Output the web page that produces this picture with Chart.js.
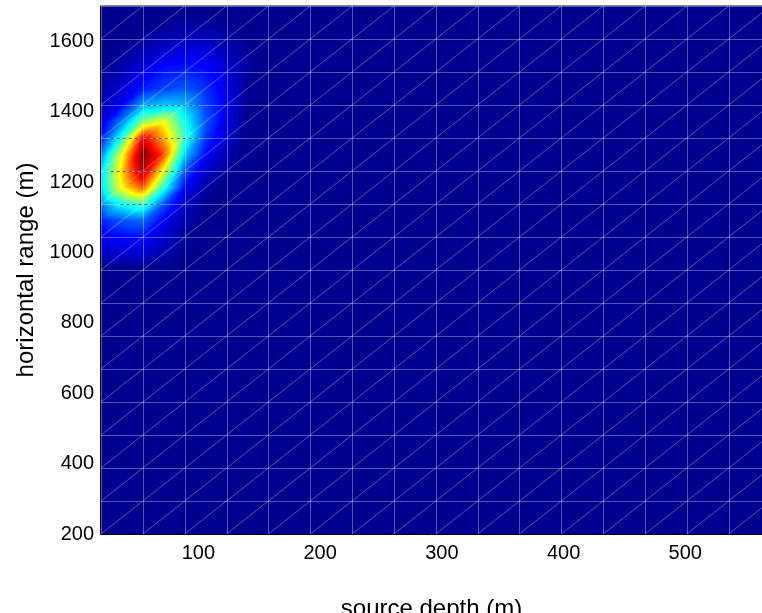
<!DOCTYPE html>
<html lang="en">
<head>
    <meta charset="UTF-8">
    <title>Source depth / horizontal range</title>
    <style>
        html, body { margin: 0; padding: 0; background: #fff; overflow: hidden; }
        #wrap { width: 762px; height: 613px; overflow: hidden; }
    </style>
</head>
<body>
<div id="wrap"><canvas id="surf" width="762" height="630"></canvas></div>

<script src="https://cdn.jsdelivr.net/npm/chart.js"></script>
<script>
    // Axis ticks
    const depthTicks = [100, 200, 300, 400, 500];
    const rangeTicks = [200, 400, 600, 800, 1000, 1200, 1400, 1600];

    // Mesh nodes (edges drawn over the surface)
    const meshDepth = [20, 54.375, 88.75, 123.125, 157.5, 191.875, 226.25, 260.625, 295,
                       329.375, 363.75, 398.125, 432.5, 466.875, 501.25, 535.625, 570];
    const meshRange = [200, 293.75, 387.5, 481.25, 575, 668.75, 762.5, 856.25, 950,
                       1043.75, 1137.5, 1231.25, 1325, 1418.75, 1512.5, 1606.25, 1700];

    // Normalised ambiguity level on the fine grid around the peak (0 everywhere else)
    const levelDepth = [20, 37.1875, 54.375, 71.5625, 88.75, 105.9375, 123.125, 140.3125, 157.5];
    const levelRange = [1700, 1653.125, 1606.25, 1559.375, 1512.5, 1465.625, 1418.75, 1371.875,
                        1325, 1278.125, 1231.25, 1184.375, 1137.5, 1090.625, 1043.75, 996.875, 950];
    const levels = [
        [0.00, 0.00, 0.00, 0.00, 0.00, 0.00, 0.00, 0.00, 0],
        [0.00, 0.00, 0.00, 0.01, 0.02, 0.02, 0.01, 0.00, 0],
        [0.00, 0.00, 0.02, 0.04, 0.05, 0.05, 0.03, 0.01, 0],
        [0.00, 0.02, 0.05, 0.08, 0.10, 0.09, 0.05, 0.02, 0],
        [0.01, 0.04, 0.10, 0.14, 0.15, 0.13, 0.08, 0.02, 0],
        [0.03, 0.07, 0.14, 0.18, 0.20, 0.16, 0.09, 0.01, 0],
        [0.04, 0.11, 0.28, 0.31, 0.30, 0.18, 0.10, 0.01, 0],
        [0.08, 0.24, 0.50, 0.60, 0.38, 0.20, 0.09, 0.01, 0],
        [0.14, 0.40, 0.88, 0.70, 0.42, 0.17, 0.07, 0.00, 0],
        [0.24, 0.60, 1.00, 0.80, 0.32, 0.12, 0.04, 0.00, 0],
        [0.32, 0.66, 0.95, 0.60, 0.20, 0.07, 0.02, 0.00, 0],
        [0.33, 0.62, 0.78, 0.40, 0.12, 0.03, 0.00, 0.00, 0],
        [0.24, 0.38, 0.44, 0.20, 0.06, 0.01, 0.00, 0.00, 0],
        [0.15, 0.20, 0.22, 0.11, 0.04, 0.00, 0.00, 0.00, 0],
        [0.10, 0.12, 0.13, 0.07, 0.02, 0.00, 0.00, 0.00, 0],
        [0.06, 0.07, 0.07, 0.04, 0.01, 0.00, 0.00, 0.00, 0],
        [0.00, 0.00, 0.00, 0.00, 0.00, 0.00, 0.00, 0.00, 0]
    ];

    // dark dashed seams along mesh rows across the peak: range, depth from, depth to
    const seamRange = [1418.75, 1325, 1231.25, 1137.5];
    const seamFrom = [58, 28, 28, 36];
    const seamTo = [102, 102, 89, 69];

    // 64-entry jet colormap
    function jet(m) {
        const n = Math.ceil(m / 4);
        const u = [];
        for (let i = 1; i <= n; i++) u.push(i / n);
        for (let i = 0; i < n - 1; i++) u.push(1);
        for (let i = n; i >= 1; i--) u.push(i / n);
        const off = Math.ceil(n / 2) - (m % 4 === 1 ? 1 : 0);
        const map = Array.from({length: m}, () => [0, 0, 0]);
        u.forEach((val, i) => {
            const g = off + i + 1, r = g + n, b = g - n;
            if (r >= 1 && r <= m) map[r - 1][0] = val;
            if (g >= 1 && g <= m) map[g - 1][1] = val;
            if (b >= 1 && b <= m) map[b - 1][2] = val;
        });
        return map.map(c => c.map(v => Math.round(v * 255)));
    }
    const cmap = jet(64);

    function findCell(arr, v) {
        // arr may be ascending or descending
        for (let i = 0; i < arr.length - 1; i++) {
            const a = arr[i], b = arr[i + 1];
            if ((v >= Math.min(a, b)) && (v <= Math.max(a, b))) return i;
        }
        return -1;
    }

    // linear interpolation on triangles split bottom-left -> top-right
    function levelAt(d, r) {
        const i = findCell(levelDepth, d);
        const j = findCell(levelRange, r);
        if (i < 0 || j < 0) return 0;
        // j is the upper row (larger range), j+1 the lower
        const d0 = levelDepth[i], d1 = levelDepth[i + 1];
        const rLo = levelRange[j + 1], rHi = levelRange[j];
        const fx = (d - d0) / (d1 - d0);
        const fy = (r - rLo) / (rHi - rLo);
        const v00 = levels[j + 1][i], v10 = levels[j + 1][i + 1];
        const v01 = levels[j][i], v11 = levels[j][i + 1];
        if (fy <= fx) return v00 + fx * (v10 - v00) + fy * (v11 - v10);
        return v00 + fy * (v01 - v00) + fx * (v11 - v01);
    }

    const surfacePlugin = {
        id: 'surface',
        beforeDatasetsDraw(chart) {
            const {ctx, chartArea: a, scales: {x, y}} = chart;
            const left = Math.round(a.left), top = Math.round(a.top);
            const w = Math.round(a.right) - left, h = Math.round(a.bottom) - top;
            const img = ctx.createImageData(w, h);
            for (let py = 0; py < h; py++) {
                const r = y.getValueForPixel(top + py + 0.5);
                for (let px = 0; px < w; px++) {
                    const d = x.getValueForPixel(left + px + 0.5);
                    const v = levelAt(d, r);
                    const c = cmap[Math.max(0, Math.min(63, Math.floor(v * 64)))];
                    const k = (py * w + px) * 4;
                    img.data[k] = c[0]; img.data[k + 1] = c[1]; img.data[k + 2] = c[2]; img.data[k + 3] = 255;
                }
            }
            ctx.putImageData(img, left, top);

            ctx.save();
            ctx.beginPath();
            ctx.rect(a.left, a.top, a.right - a.left, a.bottom - a.top);
            ctx.clip();

            // faceted mesh edges
            ctx.strokeStyle = 'rgba(255,255,255,0.33)';
            ctx.lineWidth = 1;
            ctx.beginPath();
            meshDepth.forEach(v => {
                const px = Math.round(x.getPixelForValue(v)) + 0.5;
                ctx.moveTo(px, a.top); ctx.lineTo(px, a.bottom);
            });
            meshRange.forEach(v => {
                const py = Math.round(y.getPixelForValue(v)) + 0.5;
                ctx.moveTo(a.left, py); ctx.lineTo(a.right, py);
            });
            for (let i = 0; i < meshDepth.length - 1; i++) {
                for (let j = 0; j < meshRange.length - 1; j++) {
                    ctx.moveTo(x.getPixelForValue(meshDepth[i]), y.getPixelForValue(meshRange[j]));
                    ctx.lineTo(x.getPixelForValue(meshDepth[i + 1]), y.getPixelForValue(meshRange[j + 1]));
                }
            }
            ctx.stroke();

            // seams
            ctx.strokeStyle = 'rgba(50,50,90,0.7)';
            ctx.setLineDash([3, 3]);
            ctx.beginPath();
            seamRange.forEach((r, i) => {
                const py = Math.round(y.getPixelForValue(r)) + 0.5;
                ctx.moveTo(x.getPixelForValue(seamFrom[i]), py);
                ctx.lineTo(x.getPixelForValue(seamTo[i]), py);
            });
            ctx.stroke();
            ctx.restore();

            // axes box
            ctx.save();
            ctx.lineWidth = 1;
            ctx.strokeStyle = '#000';
            ctx.beginPath();
            ctx.moveTo(left - 0.5, top);
            ctx.lineTo(left - 0.5, top + h + 0.5);
            ctx.lineTo(a.right, top + h + 0.5);
            ctx.stroke();
            ctx.strokeStyle = '#888';
            ctx.beginPath();
            ctx.moveTo(left - 1, top - 0.5);
            ctx.lineTo(a.right, top - 0.5);
            ctx.stroke();
            ctx.restore();
        }
    };

    const tickFont = {family: "'Liberation Sans', Arial, sans-serif", size: 20};
    const titleFont = {family: "'Liberation Sans', Arial, sans-serif", size: 24};

    new Chart(document.getElementById('surf'), {
        type: 'scatter',
        data: { datasets: [] },
        options: {
            responsive: false,
            animation: false,
            events: [],
            layout: { padding: { top: 6, right: 0, bottom: 0, left: 0 } },
            plugins: { legend: { display: false }, tooltip: { enabled: false } },
            scales: {
                x: {
                    type: 'linear', min: 20, max: 563,
                    grid: { display: false, drawTicks: false },
                    border: { display: false },
                    afterBuildTicks: s => { s.ticks = depthTicks.map(v => ({value: v})); },
                    afterFit: s => { s.height = 96; s.paddingLeft = 0; s.paddingRight = 0; },
                    ticks: { color: '#000', font: tickFont, padding: 7, maxRotation: 0,
                             callback: v => String(v) },
                    title: { display: true, text: 'source depth (m)', color: '#000', font: titleFont,
                             padding: { top: 0, bottom: 6 } }
                },
                y: {
                    type: 'linear', min: 200, max: 1700,
                    grid: { display: false, drawTicks: false },
                    border: { display: false },
                    afterBuildTicks: s => { s.ticks = rangeTicks.map(v => ({value: v})); },
                    afterFit: s => { s.width = 101; s.paddingTop = 0; s.paddingBottom = 0; },
                    ticks: { color: '#000', font: tickFont, padding: 7,
                             callback: v => String(v) },
                    title: { display: true, text: 'horizontal range (m)', color: '#000', font: titleFont,
                             padding: { top: 12, bottom: 0 } }
                }
            }
        },
        plugins: [surfacePlugin]
    });
</script>
</body>
</html>
